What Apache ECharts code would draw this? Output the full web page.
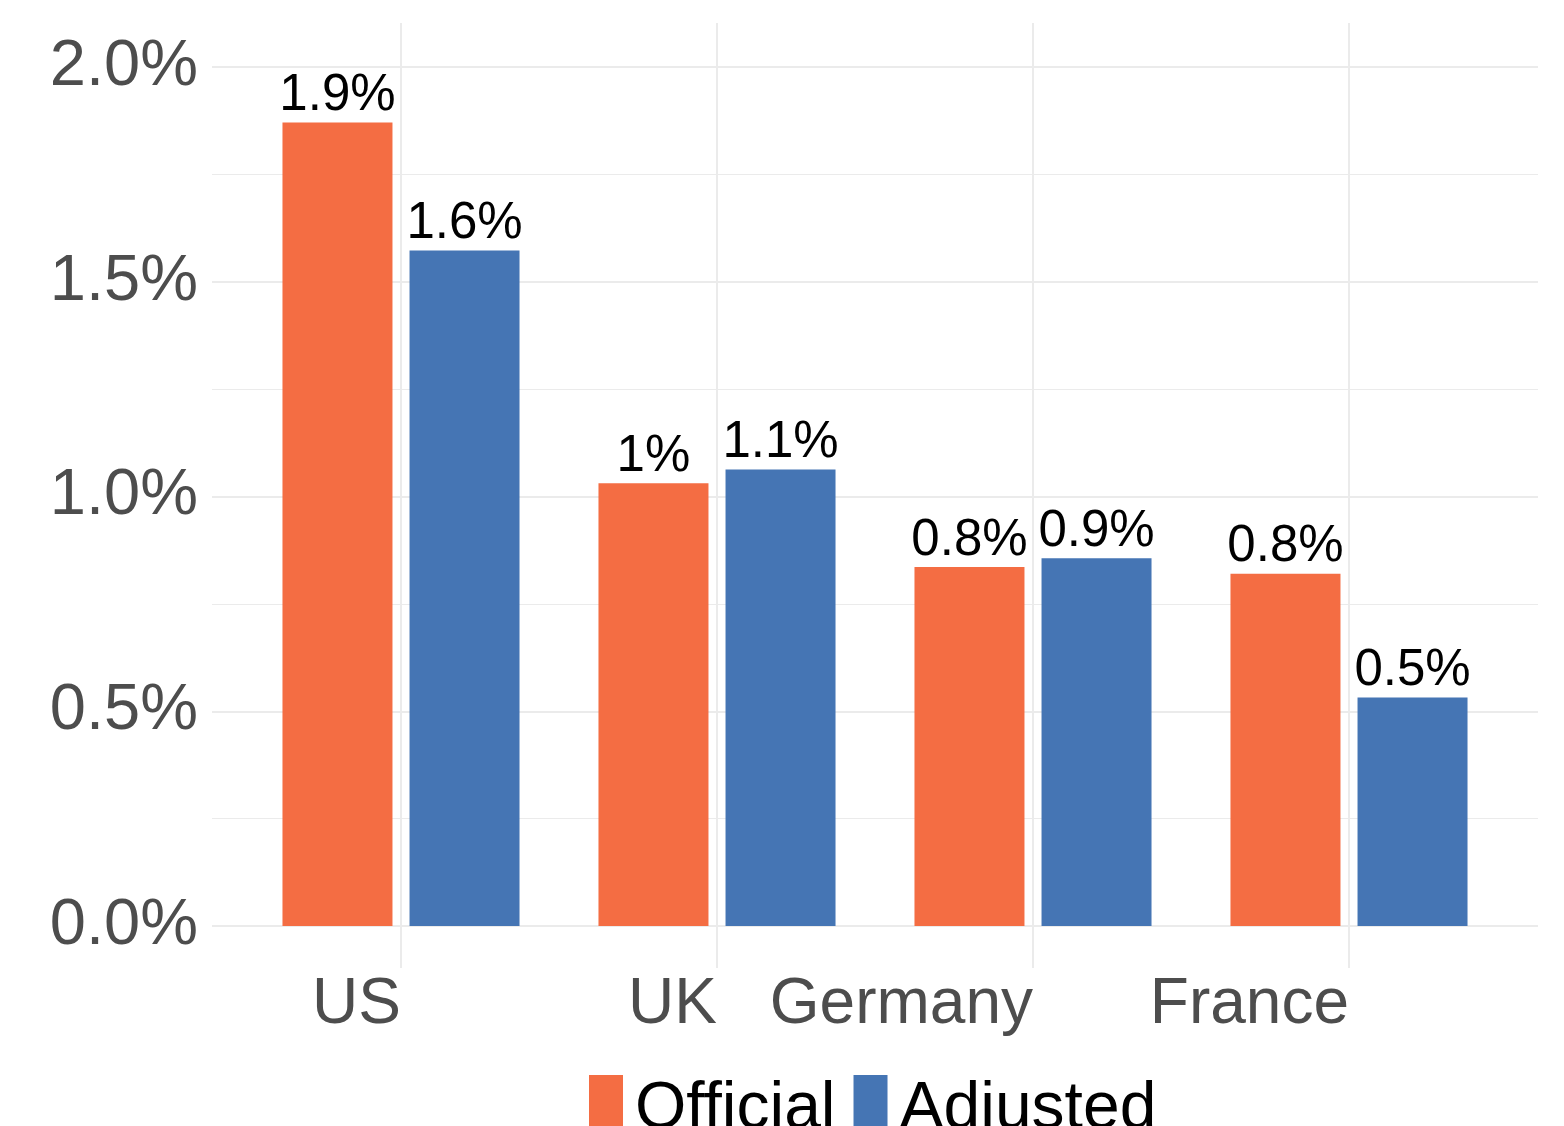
<!DOCTYPE html>
<html>
<head>
<meta charset="utf-8">
<script src="https://cdn.jsdelivr.net/npm/echarts@6/dist/echarts.min.js"></script>
<style>
  html, body { margin: 0; padding: 0; background: #ffffff; }
  #chart { width: 1564px; height: 1126px; }
</style>
</head>
<body>
<div id="chart"></div>
<script>
const categories = ['US', 'UK', 'Germany', 'France'];
const officialValues = [1.871, 1.031, 0.836, 0.820];
const adjustedValues = [1.573, 1.063, 0.856, 0.532];
const officialLabels = ['1.9%', '1%', '0.8%', '0.8%'];
const adjustedLabels = ['1.6%', '1.1%', '0.9%', '0.5%'];
const seriesNames = ['Official', 'Adjusted'];

const FONT = '"Liberation Sans", Arial, sans-serif';
const GRID_COLOR = '#ebebeb';

const chart = echarts.init(document.getElementById('chart'), null, { renderer: 'canvas' });

const option = {
  backgroundColor: '#ffffff',
  animation: false,
  textStyle: { fontFamily: FONT },
  grid: [
    { left: 212, width: 1326, top: 67, height: 859 },   // horizontal gridlines + y labels
    { left: 243, width: 1264, top: 67, height: 859 },   // bars
    { left: 401, width: 948, top: 23, height: 945 }     // vertical gridlines + x labels
  ],
  xAxis: [
    { gridIndex: 0, type: 'value', min: 0, max: 1, show: false },
    { gridIndex: 1, type: 'category', data: categories, show: false },
    {
      gridIndex: 2, type: 'category', data: categories, boundaryGap: false,
      axisLine: { show: false }, axisTick: { show: false },
      splitLine: { show: true, interval: 0, lineStyle: { color: GRID_COLOR, width: 2 } },
      axisLabel: { interval: 0, align: 'right', margin: 5, fontSize: 64, color: '#4d4d4d', fontFamily: FONT }
    }
  ],
  yAxis: [
    {
      gridIndex: 0, type: 'value', min: 0, max: 2, interval: 0.25,
      axisLine: { show: false }, axisTick: { show: false }, axisLabel: { show: false },
      splitLine: { show: true, lineStyle: { color: GRID_COLOR, width: 1.2 } }
    },
    {
      gridIndex: 0, type: 'value', min: 0, max: 2, interval: 0.5, position: 'left',
      axisLine: { show: false }, axisTick: { show: false },
      axisLabel: {
        margin: 14, fontSize: 65, color: '#4d4d4d', fontFamily: FONT,
        formatter: function (v) { return v.toFixed(1) + '%'; }
      },
      splitLine: { show: true, lineStyle: { color: GRID_COLOR, width: 2 } }
    },
    { gridIndex: 1, type: 'value', min: 0, max: 2, show: false, splitLine: { show: false } },
    { gridIndex: 2, type: 'value', min: 0, max: 1, show: false, splitLine: { show: false } }
  ],
  legend: {
    left: 584, top: 1070,
    itemWidth: 34, itemHeight: 70, itemGap: 18,
    icon: 'rect', selectedMode: false,
    data: seriesNames,
    textStyle: { fontSize: 66, color: '#000000', fontFamily: FONT, padding: [0, 0, 0, 7] }
  },
  series: [
    {
      name: seriesNames[0], type: 'bar', xAxisIndex: 1, yAxisIndex: 2,
      data: officialValues, barWidth: 110, barGap: '15.5%',
      itemStyle: { color: '#f46d43' },
      label: {
        show: true, position: 'top', distance: 1, fontSize: 51, color: '#000000', fontFamily: FONT,
        formatter: function (p) { return officialLabels[p.dataIndex]; }
      }
    },
    {
      name: seriesNames[1], type: 'bar', xAxisIndex: 1, yAxisIndex: 2,
      data: adjustedValues, barWidth: 110, barGap: '15.5%',
      itemStyle: { color: '#4575b4' },
      label: {
        show: true, position: 'top', distance: 1, fontSize: 51, color: '#000000', fontFamily: FONT,
        formatter: function (p) { return adjustedLabels[p.dataIndex]; }
      }
    }
  ]
};

chart.setOption(option);
</script>
</body>
</html>
